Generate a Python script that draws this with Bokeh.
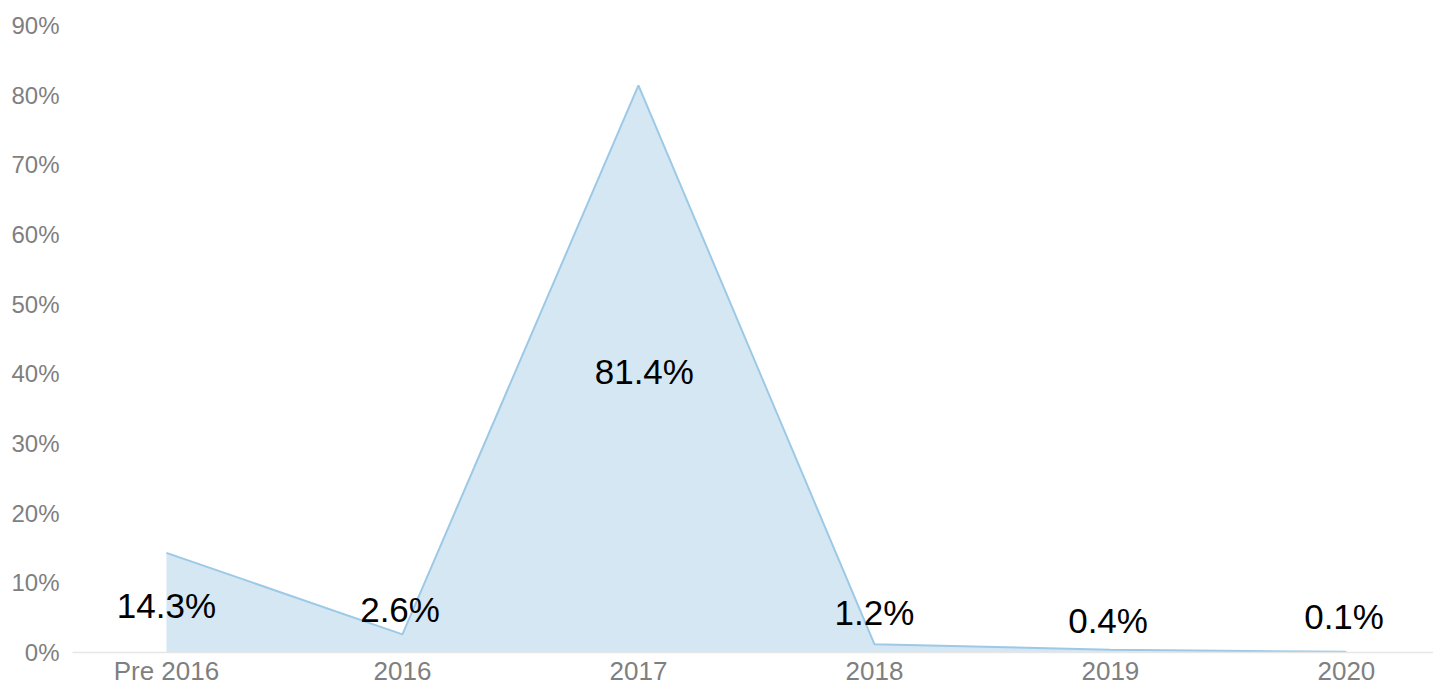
from bokeh.plotting import figure
from bokeh.models import ColumnDataSource, FixedTicker, Range1d
from bokeh.core.properties import value
from bokeh.embed import file_html
from bokeh.resources import INLINE

categories = ["Pre 2016", "2016", "2017", "2018", "2019", "2020"]
shares = [14.3, 2.6, 81.4, 1.2, 0.4, 0.1]
labels = ["14.3%", "2.6%", "81.4%", "1.2%", "0.4%", "0.1%"]
y_ticks = [0, 10, 20, 30, 40, 50, 60, 70, 80, 90]

# label placement (data units), style only
label_y = [6.8, 6.2, 40.4, 5.8, 4.6, 5.2]
label_dx = [0.0, -0.01, 0.025, 0.0, -0.01, -0.01]

FONT = "Liberation Sans"

xs = list(range(len(categories)))
src = ColumnDataSource(dict(x=xs, y=shares))
lab = ColumnDataSource(dict(x=[a + b for a, b in zip(xs, label_dx)], y=label_y, t=labels))

p = figure(width=1433, height=688, output_backend="svg", toolbar_location=None,
           x_range=Range1d(-0.398, 5.369), y_range=Range1d(0, 90),
           min_border_left=72, min_border_right=0, min_border_top=25, min_border_bottom=36)
p.outline_line_color = None
p.xgrid.visible = False
p.ygrid.visible = False

p.varea(x="x", y1=0, y2="y", source=src, fill_color="#d6e7f4")
p.line(x="x", y="y", source=src, line_color="#9cc9e6", line_width=2)

p.text(x="x", y="y", text="t", source=lab, text_align="center", text_baseline="middle",
       text_font=value(FONT), text_font_size="35px", text_color="#000000")

p.xaxis.ticker = FixedTicker(ticks=xs)
p.xaxis.major_label_overrides = {i: c for i, c in enumerate(categories)}
p.xaxis.axis_line_color = "#e6e6e6"
p.xaxis.axis_line_width = 1.5
p.xaxis.major_tick_line_color = None
p.xaxis.minor_tick_line_color = None
p.xaxis.major_tick_out = 0
p.xaxis.minor_tick_out = 0
p.xaxis.major_label_text_font = FONT
p.xaxis.major_label_text_font_size = "26px"
p.xaxis.major_label_text_color = "#7f7f7f"
p.xaxis.major_label_standoff = 3

p.yaxis.ticker = FixedTicker(ticks=y_ticks)
p.yaxis.major_label_overrides = {t: f"{t}%" for t in y_ticks}
p.yaxis.axis_line_color = None
p.yaxis.major_tick_line_color = None
p.yaxis.minor_tick_line_color = None
p.yaxis.major_tick_out = 0
p.yaxis.minor_tick_out = 0
p.yaxis.major_label_text_font = FONT
p.yaxis.major_label_text_font_size = "24px"
p.yaxis.major_label_text_color = "#7f7f7f"
p.yaxis.major_label_standoff = 13

open("out.html", "w").write(file_html(p, INLINE))
